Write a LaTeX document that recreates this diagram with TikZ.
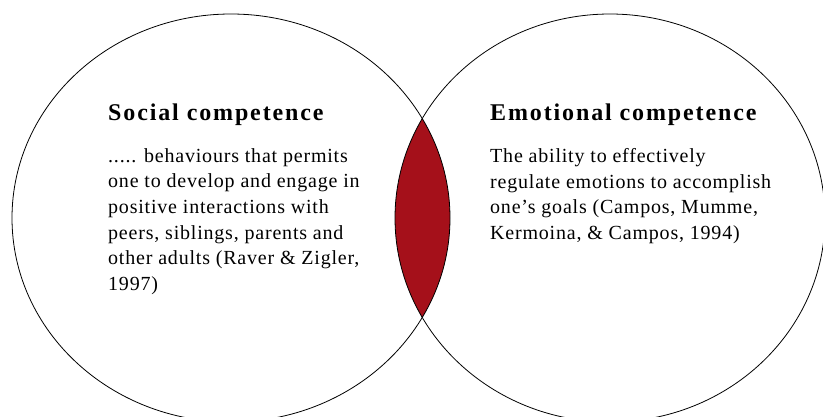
\documentclass[tikz,border=0pt]{standalone}
\usepackage{fontspec}
\setmainfont{Liberation Serif}
\usetikzlibrary{positioning}
\definecolor{lensred}{HTML}{A5101A}
\tikzset{
  ring/.style={draw=black,line width=0.8pt},
  lens/.style={fill=lensred},
  heading/.style={font=\fontsize{24}{28}\selectfont\bfseries\addfontfeature{LetterSpace=7.8},
    inner sep=0pt,anchor=base west},
  body/.style={font=\fontsize{20}{25.6}\selectfont\addfontfeature{LetterSpace=4},
    align=left,inner sep=0pt}
}

\begin{document}
\begin{tikzpicture}[x=1pt,y=1pt]
  \fill[white] (0,0) rectangle (823,416);
  \useasboundingbox (0,0) rectangle (823,416);
  % overlap of the two sets
  \begin{scope}
    \clip (231,198) ellipse [x radius=219,y radius=204];
    \fill[lens] (610,198) ellipse [x radius=215,y radius=204];
  \end{scope}
  \draw[ring] (231,198) ellipse [x radius=219,y radius=204];
  \draw[ring] (610,198) ellipse [x radius=215,y radius=204];

  \node[heading] (social) at (108,295) {Social competence};
  \node[body,below=22pt of social.south west,anchor=north west] (socialtxt)
    {..... behaviours that permits\\one to develop and engage in\\positive interactions with\\peers, siblings, parents and\\other adults (Raver \& Zigler,\\1997)};

  \node[heading] (emotion) at (490,295) {Emotional competence};
  \node[body,below=22pt of emotion.south west,anchor=north west] (emotiontxt)
    {The ability to effectively\\regulate emotions to accomplish\\one’s goals (Campos, Mumme,\\Kermoina, \& Campos, 1994)};
\end{tikzpicture}
\end{document}
